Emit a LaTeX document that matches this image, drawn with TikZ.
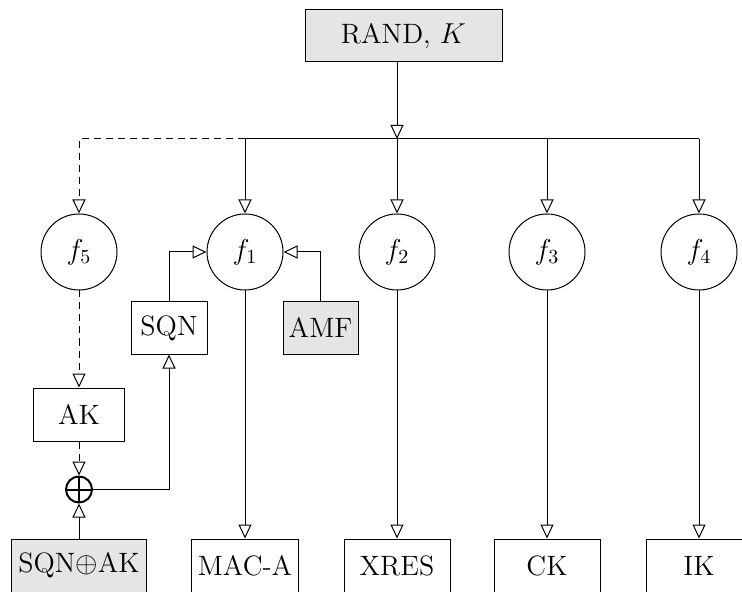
\documentclass[tikz,border=0pt]{standalone}
\usetikzlibrary{arrows.meta}
\begin{document}
\begin{tikzpicture}[x=0.5pt,y=-0.5pt,
  every node/.style={font=\fontsize{14}{16}\selectfont, line width=0.5pt},
  box/.style={draw, rectangle, inner sep=0pt, minimum height=26.5pt},
  gbox/.style={box, fill=gray!20},
  fn/.style={draw, circle, inner sep=0pt, minimum size=38pt},
  arr/.style={-{Triangle[open,length=7pt,width=6.5pt]}},
  dsh/.style={dash pattern=on 3.5pt off 2.5pt},
  xorn/.style={draw, circle, inner sep=0pt, minimum size=13pt, line width=1pt,
    path picture={\draw[line width=1pt] (path picture bounding box.north) -- (path picture bounding box.south)
      (path picture bounding box.west) -- (path picture bounding box.east);}},
  line width=0.5pt]
\clip (0,0) rectangle (742,592);
\node[gbox, minimum width=98.5pt, minimum height=26pt] (rand) at (403.5,36) {RAND, $K$};
\node[fn] (f5) at (79,252) {$f_5$};
\node[fn] (f1) at (245,252) {$f_1$};
\node[fn] (f2) at (397,252) {$f_2$};
\node[fn] (f3) at (547,252) {$f_3$};
\node[fn] (f4) at (699,252) {$f_4$};
\node[box, minimum width=38pt, minimum height=26pt] (sqn) at (169,328) {SQN};
\node[gbox, minimum width=37.5pt, minimum height=26pt] (amf) at (320.5,328) {AMF};
\node[box, minimum width=45.5pt] (ak) at (79,414.5) {AK};
\node[xorn] (xor) at (79,489.5) {};
\node[gbox, minimum width=67.5pt] (sqnak) at (79,565.5) {SQN$\oplus$AK};
\node[box, minimum width=53.5pt] (maca) at (245,565.5) {MAC-A};
\node[box, minimum width=53pt] (xres) at (397,565.5) {XRES};
\node[box, minimum width=53pt] (ck) at (547,565.5) {CK};
\node[box, minimum width=53pt] (ik) at (699,565.5) {IK};
\coordinate (b5) at (79,139);
\coordinate (b1) at (245,139);
\coordinate (b2) at (397,139);
\coordinate (b3) at (547,139);
\coordinate (b4) at (699,139);
\draw[arr] (rand.south -| b2) -- (b2);
\draw (b1) -- (b4);
\draw[arr, dsh] (b1) -- (b5) -- (f5.north);
\draw[arr] (b1) -- (f1.north);
\draw[arr] (b2) -- (f2.north);
\draw[arr] (b3) -- (f3.north);
\draw[arr] (b4) -- (f4.north);
\draw[arr] (sqn.north) |- (f1.west);
\draw[arr] (amf.north) |- (f1.east);
\draw[arr, dsh] (f5.south) -- (ak.north);
\draw[arr, dsh] (ak.south) -- (xor.north);
\draw[arr] (sqnak.north) -- (xor.south);
\draw[arr] (xor.east) -| (sqn.south);
\draw[arr] (f1.south) -- (maca.north);
\draw[arr] (f2.south) -- (xres.north);
\draw[arr] (f3.south) -- (ck.north);
\draw[arr] (f4.south) -- (ik.north);
\end{tikzpicture}
\end{document}
